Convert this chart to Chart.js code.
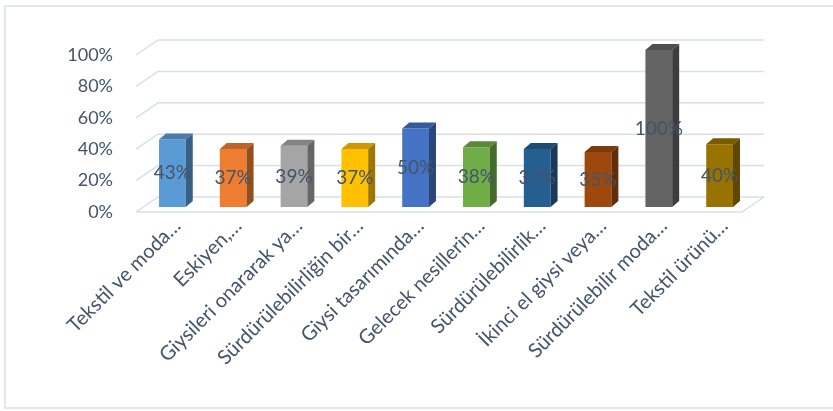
<!DOCTYPE html>
<html>
<head>
<meta charset="utf-8">
<script src="https://cdn.jsdelivr.net/npm/chart.js@4"></script>
<style>
  html, body { margin: 0; padding: 0; background: #fff; }
  #wrap { width: 833px; height: 411px; position: relative; }
</style>
</head>
<body>
<div id="wrap"><canvas id="barChart"></canvas></div>
<script>
// Survey answers (share of respondents), one bar per statement
const categories = [
    'Tekstil ve moda…', 'Eskiyen,…', 'Giysileri onararak ya…', 'Sürdürülebilirliğin bir…',
    'Giysi tasarımında…', 'Gelecek nesillerin…', 'Sürdürülebilirlik…', 'İkinci el giysi veya…',
    'Sürdürülebilir moda…', 'Tekstil ürünü…'
];
const values = [43, 37, 39, 37, 50, 38, 37, 35, 100, 40];
const yTicks = [0, 20, 40, 60, 80, 100];

// Office palette, one colour per bar
const barColors = ['#5B9BD5', '#ED7D31', '#A5A5A5', '#FFC000', '#4472C4',
                   '#70AD47', '#255E91', '#9E480E', '#636363', '#997300'];

const textColor = '#44546A';
const fontFamily = 'Lato, "Open Sans", sans-serif';

// depth of the 3d walls and of the bars
const WALL_DX = 22, WALL_DY = -15;
const BAR_DX = 7, BAR_DY = -6;

function shade(hex, f) {
    const n = parseInt(hex.slice(1), 16);
    const r = Math.round(((n >> 16) & 255) * f);
    const g = Math.round(((n >> 8) & 255) * f);
    const b = Math.round((n & 255) * f);
    return `rgb(${r},${g},${b})`;
}

const frame3d = {
    id: 'frame3d',
    beforeDraw(chart) {
        const ctx = chart.ctx;
        ctx.save();
        ctx.strokeStyle = '#dcdfe4';
        ctx.lineWidth = 1.5;
        ctx.beginPath();
        ctx.moveTo(840, 6); ctx.lineTo(5, 6); ctx.lineTo(5, 408); ctx.lineTo(840, 408);
        ctx.stroke();
        ctx.restore();
    },
    beforeDatasetsDraw(chart) {
        const ctx = chart.ctx;
        const y = chart.scales.y;
        const left = chart.chartArea.left - 6;
        const right = chart.chartArea.right - 8;
        ctx.save();
        ctx.strokeStyle = '#d9dee8';
        ctx.lineWidth = 1.5;
        yTicks.forEach(v => {
            const fy = y.getPixelForValue(v) + 5;
            ctx.beginPath();
            ctx.moveTo(left, fy);
            ctx.lineTo(left + WALL_DX, fy + WALL_DY);
            ctx.lineTo(right + WALL_DX, fy + WALL_DY);
            ctx.stroke();
        });
        // front edge of the floor
        const fy0 = y.getPixelForValue(0) + 5;
        ctx.beginPath();
        ctx.moveTo(left, fy0);
        ctx.lineTo(right, fy0);
        ctx.lineTo(right + WALL_DX, fy0 + WALL_DY);
        ctx.stroke();
        ctx.restore();
    },
    afterDatasetsDraw(chart) {
        const ctx = chart.ctx;
        const meta = chart.getDatasetMeta(0);
        ctx.save();
        meta.data.forEach((bar, i) => {
            const { x, y, base, width } = bar.getProps(['x', 'y', 'base', 'width'], true);
            const l = x - width / 2, r = x + width / 2;
            // top face
            ctx.fillStyle = shade(barColors[i], 0.8);
            ctx.beginPath();
            ctx.moveTo(l, y); ctx.lineTo(r, y);
            ctx.lineTo(r + BAR_DX, y + BAR_DY); ctx.lineTo(l + BAR_DX, y + BAR_DY);
            ctx.closePath(); ctx.fill();
            // side face
            ctx.fillStyle = shade(barColors[i], 0.62);
            ctx.beginPath();
            ctx.moveTo(r, y); ctx.lineTo(r + BAR_DX, y + BAR_DY);
            ctx.lineTo(r + BAR_DX, base + BAR_DY); ctx.lineTo(r, base);
            ctx.closePath(); ctx.fill();
        });
        // value labels in the middle of each bar
        ctx.fillStyle = textColor;
        ctx.font = `19px ${fontFamily}`;
        ctx.textAlign = 'center';
        ctx.textBaseline = 'middle';
        meta.data.forEach((bar, i) => {
            const { x, y, base } = bar.getProps(['x', 'y', 'base'], true);
            ctx.fillText(values[i] + '%', x, (y + base) / 2);
        });
        ctx.restore();
    }
};

new Chart(document.getElementById('barChart'), {
    type: 'bar',
    data: {
        labels: categories,
        datasets: [{
            data: values,
            backgroundColor: barColors,
            borderWidth: 0,
            categoryPercentage: 1,
            barPercentage: 0.44
        }]
    },
    options: {
        responsive: true,
        maintainAspectRatio: false,
        animation: false,
        layout: { padding: { left: 0, top: 50, right: 83, bottom: 0 } },
        plugins: { legend: { display: false }, tooltip: { enabled: false } },
        scales: {
            x: {
                grid: { display: false, drawTicks: false },
                border: { display: false },
                ticks: {
                    autoSkip: false,
                    minRotation: 45,
                    maxRotation: 45,
                    padding: 7,
                    labelOffset: 5,
                    color: textColor,
                    font: { family: fontFamily, size: 20 }
                },
                afterFit: (s) => { s.height = 204; }
            },
            y: {
                min: 0,
                max: 100,
                grid: { display: false, drawTicks: false },
                border: { display: false },
                ticks: {
                    stepSize: 20,
                    padding: 29,
                    labelOffset: 5,
                    color: textColor,
                    font: { family: fontFamily, size: 18 },
                    callback: (v) => v + '%'
                },
                afterFit: (s) => { s.width = 142; }
            }
        }
    },
    plugins: [frame3d]
});
</script>
</body>
</html>
